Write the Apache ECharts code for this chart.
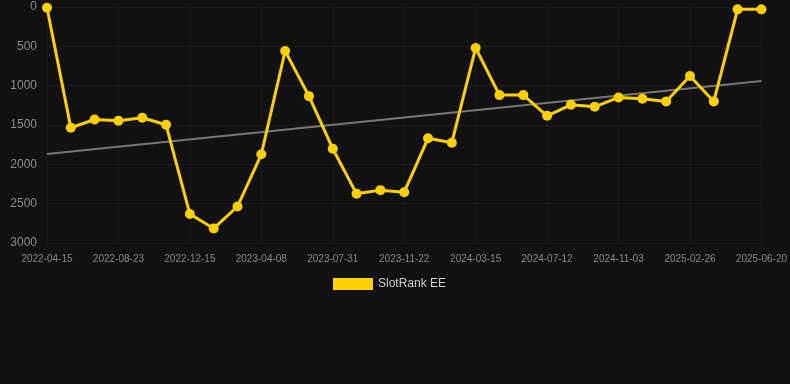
<!DOCTYPE html>
<html>
<head>
<meta charset="utf-8">
<script src="https://cdn.jsdelivr.net/npm/echarts@6/dist/echarts.min.js"></script>
<style>
  html, body { margin: 0; padding: 0; background: #111111; }
  #chart { width: 790px; height: 384px; }
</style>
</head>
<body>
<div id="chart"></div>
<script>
let dates = [
  '2022-04-15', '2022-05-28', '2022-07-10', '2022-08-23', '2022-09-30', '2022-11-07',
  '2022-12-15', '2023-01-22', '2023-03-01', '2023-04-08', '2023-05-16', '2023-06-23',
  '2023-07-31', '2023-09-07', '2023-10-15', '2023-11-22', '2023-12-30', '2024-02-06',
  '2024-03-15', '2024-04-24', '2024-06-02', '2024-07-12', '2024-08-19', '2024-09-26',
  '2024-11-03', '2024-12-11', '2025-01-18', '2025-02-26', '2025-04-05', '2025-05-13',
  '2025-06-20'
];
let ranks = [
  10, 1535, 1430, 1445, 1408, 1497,
  2632, 2815, 2536, 1872, 559, 1133,
  1801, 2375, 2328, 2354, 1669, 1725,
  521, 1120, 1120, 1383, 1243, 1269,
  1150, 1167, 1200, 876, 1200, 30,
  30
];
let trendEnds = [1870, 940];
let yTicks = [0, 500, 1000, 1500, 2000, 2500, 3000];

let myChart = echarts.init(document.getElementById('chart'));

let option = {
  backgroundColor: '#111111',
  animation: false,
  grid: {
    left: 47,
    right: 28,
    top: 7,
    bottom: 141
  },
  legend: {
    top: 273,
    left: 328,
    itemWidth: 40,
    itemHeight: 12,
    itemGap: 10,
    icon: 'rect',
    textStyle: { color: '#cccccc', fontSize: 12 },
    data: ['SlotRank EE']
  },
  xAxis: {
    type: 'category',
    boundaryGap: false,
    data: dates,
    axisLine: { show: false },
    axisTick: { show: false },
    axisLabel: {
      interval: 2,
      color: '#888888',
      fontSize: 10,
      margin: 11
    },
    splitLine: {
      show: true,
      interval: 2,
      lineStyle: { color: '#191919', width: 1 }
    }
  },
  yAxis: {
    type: 'value',
    inverse: true,
    min: yTicks[0],
    max: yTicks[yTicks.length - 1],
    interval: 500,
    axisLine: { show: false },
    axisTick: { show: false },
    axisLabel: {
      color: '#8c8c8c',
      fontSize: 12,
      margin: 10,
      formatter: function (v) { return String(v); }
    },
    splitLine: { lineStyle: { color: '#1d1d1d', width: 1 } }
  },
  series: [
    {
      name: 'SlotRank EE',
      type: 'line',
      data: ranks,
      symbol: 'circle',
      symbolSize: 10,
      lineStyle: { color: '#ffd000', width: 3 },
      itemStyle: { color: '#ffd000' },
      z: 3
    },
    {
      name: 'trend',
      type: 'line',
      data: [[dates[0], trendEnds[0]], [dates[dates.length - 1], trendEnds[1]]],
      symbol: 'none',
      lineStyle: { color: '#777777', width: 2 },
      z: 2
    }
  ]
};

myChart.setOption(option);
</script>
</body>
</html>
